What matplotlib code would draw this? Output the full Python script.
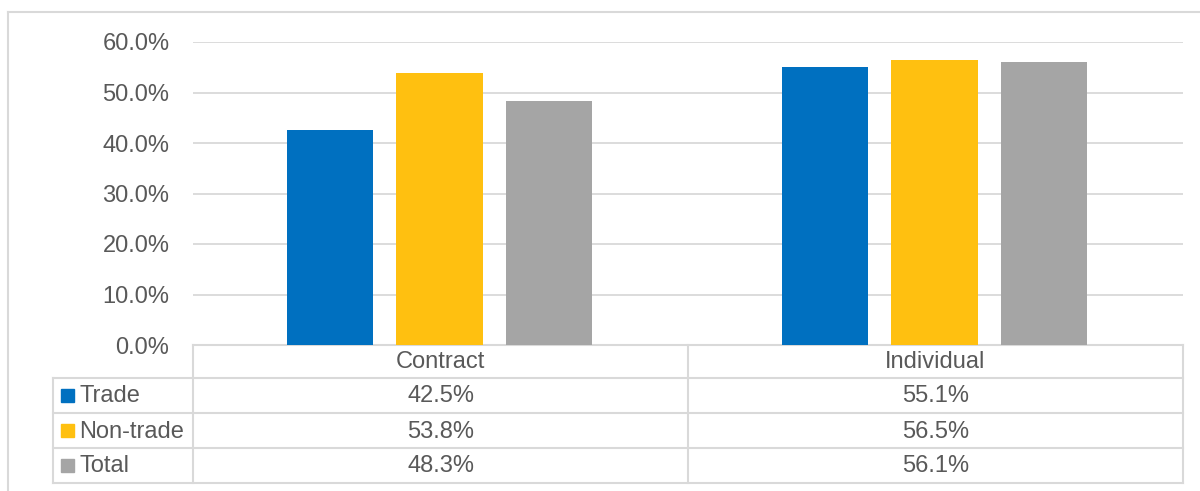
import matplotlib.pyplot as plt
from matplotlib.patches import Rectangle

plt.rcParams['font.family'] = ['Liberation Sans', 'DejaVu Sans']

categories = ["Contract", "Individual"]
series = ["Trade", "Non-trade", "Total"]
trade = [0.425, 0.551]
non_trade = [0.538, 0.565]
total = [0.483, 0.561]
colors = ["#0070c0", "#ffc010", "#a5a5a5"]

values = [trade, non_trade, total]
text_col = "#595959"
line_col = "#d9d9d9"
fs = 17

W, H = 1200, 491
fig = plt.figure(figsize=(12, 4.91), dpi=100)

# background layer in pixel coords for frame and data table
bg = fig.add_axes([0, 0, 1, 1], zorder=0)
bg.set_xlim(0, W)
bg.set_ylim(H, 0)
bg.axis("off")

# chart frame (cropped at right and bottom)
bg.plot([8, W], [12, 12], color=line_col, lw=1.5)
bg.plot([8, 8], [12, H], color=line_col, lw=1.5)

# plot area
x0, x1 = 193, 1183
y_top, y_zero = 42, 345
ax = fig.add_axes([x0 / W, (H - y_zero) / H, (x1 - x0) / W, (y_zero - y_top) / H], zorder=1)
ax.patch.set_alpha(0)

bw = 0.174
step = 0.222
for i, (name, vals) in enumerate(zip(series, values)):
    xs = [c + (i - 1) * step - 0.002 for c in range(len(categories))]
    ax.bar(xs, vals, width=bw, color=colors[i], zorder=2)

ax.set_xlim(-0.5, len(categories) - 0.5)
ax.set_ylim(0, 0.6)
ax.set_yticks([0, 0.1, 0.2, 0.3, 0.4, 0.5, 0.6])
ax.set_yticklabels([f"{t * 100:.1f}%" for t in ax.get_yticks()], fontsize=fs, color=text_col)
ax.tick_params(axis="y", length=0, pad=17)
ax.tick_params(axis="x", bottom=False, labelbottom=False)
ax.yaxis.grid(True, color=line_col, lw=1.3)
ax.set_axisbelow(True)
for s in ax.spines.values():
    s.set_visible(False)

# data table
rows = [345, 378, 413, 448, 483]
col_x = [x0, (x0 + x1) / 2, x1]
left_x = 53
lw = 1.5
# header row (only over the category columns)
bg.plot([x0, x1], [rows[0], rows[0]], color=line_col, lw=lw, zorder=3)
for r in rows[1:]:
    bg.plot([left_x, x1], [r, r], color=line_col, lw=lw, zorder=3)
for cx in col_x:
    bg.plot([cx, cx], [rows[0], rows[-1]], color=line_col, lw=lw, zorder=3)
bg.plot([left_x, left_x], [rows[1], rows[-1]], color=line_col, lw=lw, zorder=3)

for j, cat in enumerate(categories):
    cx = (col_x[j] + col_x[j + 1]) / 2
    bg.text(cx, (rows[0] + rows[1]) / 2 + 1, cat, ha="center", va="center",
            fontsize=fs, color=text_col)

for i, (name, vals) in enumerate(zip(series, values)):
    ym = (rows[i + 1] + rows[i + 2]) / 2
    bg.add_patch(Rectangle((61, ym - 7), 13, 13, color=colors[i]))
    bg.text(79, ym + 1, name, ha="left", va="center", fontsize=fs, color=text_col)
    for j, v in enumerate(vals):
        cx = (col_x[j] + col_x[j + 1]) / 2
        bg.text(cx, ym + 1, f"{v * 100:.1f}%", ha="center", va="center",
                fontsize=fs, color=text_col)

fig.savefig("out.png", dpi=100)
